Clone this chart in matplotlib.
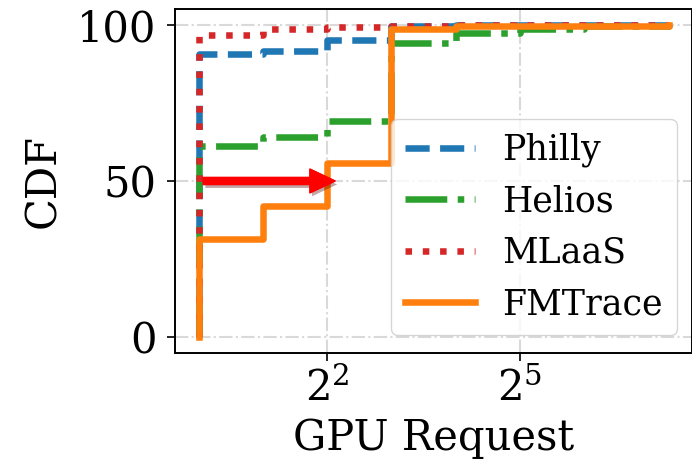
import matplotlib
matplotlib.use("Agg")
import matplotlib.pyplot as plt
import matplotlib.patheffects as pe

# CDF data (GPU request -> cumulative %)
philly_gpu = [1, 1, 2, 4, 8, 16, 64, 160]
philly_cdf = [0, 90.5, 91.5, 95.0, 99.5, 99.9, 100, 100]

helios_gpu = [1, 1, 2, 4, 8, 16, 32, 64, 160]
helios_cdf = [0, 61.2, 64.2, 69.3, 94.2, 97.4, 98.7, 99.6, 100]

mlaas_gpu = [1, 1, 2, 4, 8, 16, 160]
mlaas_cdf = [0, 96.6, 98.6, 99.4, 99.7, 100, 100]

fmtrace_gpu = [1, 1, 2, 4, 8, 16, 160]
fmtrace_cdf = [0, 31.5, 42.0, 55.6, 98.7, 99.7, 100]

xtick_vals = [4, 32]
xtick_labels = [r'$2^2$', r'$2^5$']
ytick_vals = [0, 50, 100]

plt.rcParams['font.family'] = 'DejaVu Serif'
plt.rcParams['mathtext.fontset'] = 'dejavuserif'

fig = plt.figure(figsize=(6.92, 4.61), dpi=100)
ax = fig.add_axes([0.2529, 0.2343, 0.7471, 0.7462])

lw = 4.7
ax.plot(philly_gpu, philly_cdf, drawstyle='steps-post', color='#1f77b4', linestyle='--', linewidth=lw, label='Philly')
ax.plot(helios_gpu, helios_cdf, drawstyle='steps-post', color='#2ca02c', linestyle='-.', linewidth=lw, label='Helios')
ax.plot(mlaas_gpu, mlaas_cdf, drawstyle='steps-post', color='#d62728', linestyle=':', linewidth=lw, label='MLaaS')
ax.plot(fmtrace_gpu, fmtrace_cdf, drawstyle='steps-post', color='#ff7f0e', linestyle='-', linewidth=lw, label='FMTrace')

# red arrow at CDF = 50
arr = ax.annotate('', xy=(4.35, 50), xytext=(1.05, 50),
                  arrowprops=dict(facecolor='red', edgecolor='red', width=5,
                                  headwidth=17, headlength=18, shrink=0))
arr.arrow_patch.set_path_effects([pe.withSimplePatchShadow(offset=(1.5, -2.5), alpha=0.35), pe.Normal()])

ax.set_xscale('log', base=2)
ax.set_xlim(2 ** -0.37, 2 ** 7.68)
ax.set_ylim(-5, 105)
ax.set_xticks(xtick_vals)
ax.set_xticklabels(xtick_labels)
ax.minorticks_off()
ax.set_yticks(ytick_vals)

ax.tick_params(axis='both', labelsize=30, length=5.5, width=1.2)
ax.tick_params(axis='y', pad=8)
ax.tick_params(axis='x', pad=5)
for s in ax.spines.values():
    s.set_linewidth(1.4)

ax.grid(True, linestyle='-.', color='#d9d9d9', linewidth=1.5)
ax.set_axisbelow(True)

ax.set_xlabel('GPU Request', fontsize=30, labelpad=5)
ax.set_ylabel('CDF', fontsize=30, labelpad=9)

ax.legend(loc='lower right', bbox_to_anchor=(0.978, 0.273), bbox_transform=fig.transFigure,
          borderaxespad=0, fontsize=25, labelspacing=0.5)

fig.savefig('out.png', dpi=100)
